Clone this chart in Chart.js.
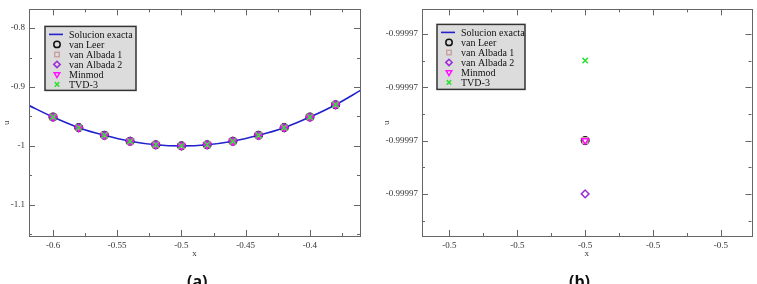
<!DOCTYPE html>
<html>
<head>
<meta charset="utf-8">
<script src="https://cdn.jsdelivr.net/npm/chart.js@4/dist/chart.umd.min.js"></script>
<style>
  body { margin: 0; width: 757px; height: 284px; overflow: hidden; background: #fff; position: relative; }
  #ca { position: absolute; left: 0; top: 0; }
  #cb { position: absolute; left: 380px; top: 0; }
  .lab { position: absolute; top: 273px; font: bold 16px "Open Sans", sans-serif; color: #111; line-height: 1; }
</style>
</head>
<body>
<canvas id="ca" width="380" height="284"></canvas>
<canvas id="cb" width="377" height="284"></canvas>
<div class="lab" style="left:187px">(a)</div>
<div class="lab" style="left:569px">(b)</div>
<script>
// ---- panel (a) ----
const xExactA = [-0.62, -0.60, -0.58, -0.56, -0.54, -0.52, -0.50, -0.48, -0.46, -0.44, -0.42, -0.40, -0.38, -0.36];
const uExactA = [-0.930, -0.951, -0.969, -0.982, -0.992, -0.998, -1.000, -0.998, -0.992, -0.982, -0.969, -0.951, -0.930, -0.905];
const xNodesA = [-0.60, -0.58, -0.56, -0.54, -0.52, -0.50, -0.48, -0.46, -0.44, -0.42, -0.40, -0.38];
// all five schemes sit on top of each other at this scale
const uVanLeerA = [-0.951, -0.969, -0.982, -0.992, -0.998, -1.000, -0.998, -0.992, -0.982, -0.969, -0.951, -0.930];
const uAlbada1A = [-0.951, -0.969, -0.982, -0.992, -0.998, -1.000, -0.998, -0.992, -0.982, -0.969, -0.951, -0.930];
const uAlbada2A = [-0.951, -0.969, -0.982, -0.992, -0.998, -1.000, -0.998, -0.992, -0.982, -0.969, -0.951, -0.930];
const uMinmodA  = [-0.951, -0.969, -0.982, -0.992, -0.998, -1.000, -0.998, -0.992, -0.982, -0.969, -0.951, -0.930];
const uTvd3A    = [-0.951, -0.969, -0.982, -0.992, -0.998, -1.000, -0.998, -0.992, -0.982, -0.969, -0.951, -0.930];

const xTicksA = [-0.6, -0.55, -0.5, -0.45, -0.4];
const xTickLabelsA = ["-0.6", "-0.55", "-0.5", "-0.45", "-0.4"];
const xMinorA = [-0.575, -0.525, -0.475, -0.425, -0.375];
const yTicksA = [-1.1, -1, -0.9, -0.8];
const yTickLabelsA = ["-1.1", "-1", "-0.9", "-0.8"];
const yMinorA = [-1.15, -1.05, -0.95, -0.85];

// ---- panel (b) : zoom on x = -0.5 ----
const xExactB = [-0.5];
const uExactB = [-1.0];
const xNodesB = [-0.5];
const uVanLeerB = [-0.99997];
const uAlbada1B = [-0.99997];
const uAlbada2B = [-0.999972];
const uMinmodB  = [-0.99997];
const uTvd3B    = [-0.999967];

const xTicksB = [-0.500002, -0.500001, -0.5, -0.499999, -0.499998];
const xTickLabelsB = ["-0.5", "-0.5", "-0.5", "-0.5", "-0.5"];
const xMinorB = [-0.5000015, -0.5000005, -0.4999995, -0.4999985];
const yTicksB = [-0.999972, -0.99997, -0.999968, -0.999966];
const yTickLabelsB = ["-0.99997", "-0.99997", "-0.99997", "-0.99997"];
const yMinorB = [-0.999973, -0.999971, -0.999969, -0.999967];

const series = [
  { label: "Solucion exacta", line: true, color: "#2222cc" },
  { label: "van Leer", style: "circle", rot: 0, color: "#111111" },
  { label: "van Albada 1", style: "rect", rot: 0, color: "#c9a3a3" },
  { label: "van Albada 2", style: "rectRot", rot: 0, color: "#9a2fd6" },
  { label: "Minmod", style: "triangle", rot: 180, color: "#ff10ff" },
  { label: "TVD-3", style: "crossRot", rot: 0, color: "#33dd33" },
];

function pts(xs, ys) {
  return xs.map((x, i) => ({ x: x, y: ys[i] }));
}

function makeDatasets(xe, ue, xn, schemes) {
  const ds = [{
    label: series[0].label,
    data: pts(xe, ue),
    showLine: true,
    borderColor: series[0].color,
    borderWidth: 1.6,
    pointRadius: 0,
    cubicInterpolationMode: "monotone",
    order: 10,
  }];
  schemes.forEach((u, i) => {
    const s = series[i + 1];
    ds.push({
      label: s.label,
      data: pts(xn, u),
      showLine: false,
      pointStyle: s.style,
      rotation: s.rot,
      pointRadius: 3.8,
      pointBorderWidth: 1.5,
      borderColor: s.color,
      backgroundColor: "rgba(0,0,0,0)",
      order: 5 - i,
    });
  });
  return ds;
}

// inward ticks and frame, xmgrace style
const graceFrame = {
  id: "graceFrame",
  afterDatasetsDraw(chart, args, opts) {
    const { ctx, chartArea: a } = chart;
    const sx = chart.scales.x, sy = chart.scales.y;
    ctx.save();
    ctx.strokeStyle = "#666";
    ctx.lineWidth = 1;
    ctx.beginPath();
    const mark = (vals, len) => {
      vals.forEach(v => {
        const px = Math.round(sx.getPixelForValue(v)) + 0.5;
        ctx.moveTo(px, a.bottom); ctx.lineTo(px, a.bottom - len);
        ctx.moveTo(px, a.top); ctx.lineTo(px, a.top + len);
      });
    };
    const markY = (vals, len) => {
      vals.forEach(v => {
        const py = Math.round(sy.getPixelForValue(v)) + 0.5;
        ctx.moveTo(a.left, py); ctx.lineTo(a.left + len, py);
        ctx.moveTo(a.right, py); ctx.lineTo(a.right - len, py);
      });
    };
    mark(opts.xMajor, 6); mark(opts.xMinor, 3);
    markY(opts.yMajor, 6); markY(opts.yMinor, 3);
    ctx.stroke();
    ctx.strokeRect(Math.round(a.left) + 0.5, Math.round(a.top) + 0.5,
      Math.round(a.right - a.left), Math.round(a.bottom - a.top));
    ctx.restore();
  },
};

// boxed legend inside the plot
const graceLegend = {
  id: "graceLegend",
  afterDraw(chart, args, opts) {
    const { ctx, chartArea: a } = chart;
    const bx = a.left + opts.dx, by = a.top + opts.dy;
    ctx.save();
    ctx.fillStyle = "#dcdcdc";
    ctx.fillRect(bx, by, opts.w, opts.h);
    ctx.strokeStyle = "#333";
    ctx.lineWidth = 1.5;
    ctx.strokeRect(bx, by, opts.w, opts.h);
    ctx.font = '10px "Liberation Serif", serif';
    ctx.textBaseline = "middle";
    series.forEach((s, i) => {
      const y = by + 8 + i * 10;
      if (s.line) {
        ctx.strokeStyle = s.color;
        ctx.lineWidth = 1.6;
        ctx.beginPath();
        ctx.moveTo(bx + 4, y); ctx.lineTo(bx + 18, y);
        ctx.stroke();
      } else {
        ctx.strokeStyle = s.color;
        ctx.fillStyle = "rgba(0,0,0,0)";
        ctx.lineWidth = 1.5;
        Chart.helpers.drawPoint(ctx, { pointStyle: s.style, rotation: s.rot, radius: 3.2, borderWidth: 1.5 }, bx + 12, y);
      }
      ctx.fillStyle = "#111";
      ctx.fillText(s.label, bx + 24, y + 0.5);
    });
    ctx.restore();
  },
};

const tickFont = { family: '"Liberation Serif", serif', size: 9 };

function makeChart(id, cfg) {
  return new Chart(document.getElementById(id).getContext("2d"), {
    type: "scatter",
    data: { datasets: cfg.datasets },
    options: {
      responsive: false,
      animation: false,
      layout: { padding: cfg.padding },
      plugins: {
        legend: { display: false },
        tooltip: { enabled: false },
        graceFrame: { xMajor: cfg.xTicks, xMinor: cfg.xMinor, yMajor: cfg.yTicks, yMinor: cfg.yMinor },
        graceLegend: cfg.legend,
      },
      scales: {
        x: {
          type: "linear",
          min: cfg.xMin, max: cfg.xMax,
          grid: { display: false, drawTicks: false },
          border: { display: false },
          afterBuildTicks: (s) => { s.ticks = cfg.xTicks.map(v => ({ value: v })); },
          afterFit: (s) => { s.height = 26; },
          ticks: {
            autoSkip: false, maxRotation: 0, padding: 4, color: "#333", font: tickFont,
            callback: (v, i) => cfg.xLabels[i],
          },
          title: { display: true, text: "x", color: "#333", font: tickFont, padding: { top: 0, bottom: 3 } },
        },
        y: {
          type: "linear",
          min: cfg.yMin, max: cfg.yMax,
          grid: { display: false, drawTicks: false },
          border: { display: false },
          afterBuildTicks: (s) => { s.ticks = cfg.yTicks.map(v => ({ value: v })); },
          afterFit: (s) => { s.width = cfg.yWidth; },
          ticks: {
            autoSkip: false, padding: 4, color: "#333", font: tickFont,
            callback: (v, i) => cfg.yLabels[i],
          },
          title: { display: true, text: "u", color: "#333", font: tickFont, padding: { top: 1, bottom: 0 } },
        },
      },
    },
    plugins: [graceFrame, graceLegend],
  });
}

makeChart("ca", {
  datasets: makeDatasets(xExactA, uExactA, xNodesA, [uVanLeerA, uAlbada1A, uAlbada2A, uMinmodA, uTvd3A]),
  padding: { left: 0, right: 20, top: 6, bottom: 22 },
  xMin: -0.6187, xMax: -0.361, yMin: -1.153, yMax: -0.7682,
  xTicks: xTicksA, xLabels: xTickLabelsA, xMinor: xMinorA,
  yTicks: yTicksA, yLabels: yTickLabelsA, yMinor: yMinorA,
  yWidth: 29,
  legend: { dx: 16, dy: 17, w: 91, h: 64 },
});

makeChart("cb", {
  datasets: makeDatasets(xExactB, uExactB, xNodesB, [uVanLeerB, uAlbada1B, uAlbada2B, uMinmodB, uTvd3B]),
  padding: { left: 0, right: 4, top: 5, bottom: 22 },
  xMin: -0.500002403, xMax: -0.49999755, yMin: -0.99997358, yMax: -0.99996508,
  xTicks: xTicksB, xLabels: xTickLabelsB, xMinor: xMinorB,
  yTicks: yTicksB, yLabels: yTickLabelsB, yMinor: yMinorB,
  yWidth: 42,
  legend: { dx: 15, dy: 15, w: 88, h: 65 },
});
</script>
</body>
</html>
